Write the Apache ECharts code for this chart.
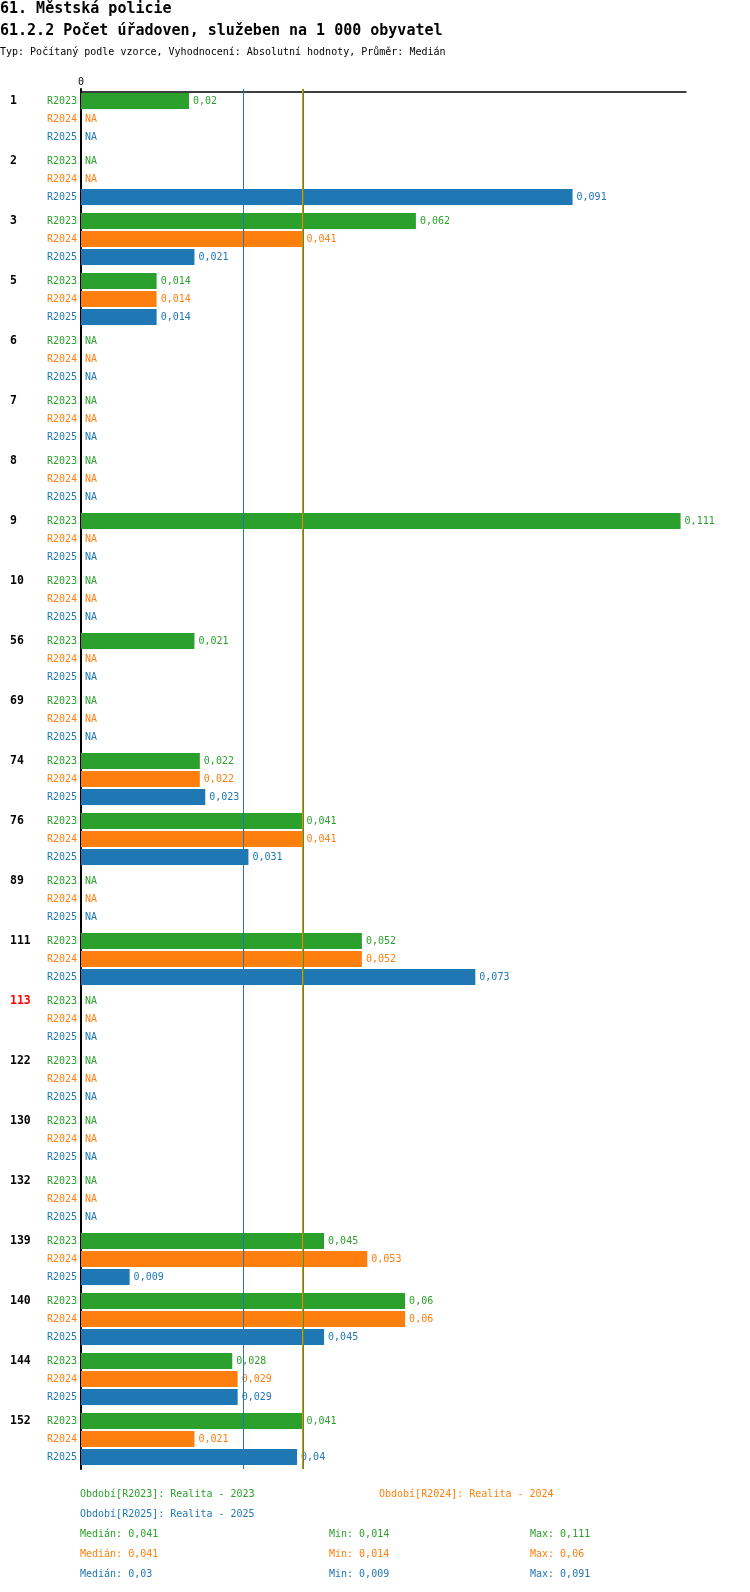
<!DOCTYPE html>
<html>
<head>
<meta charset="utf-8">
<script src="https://cdn.jsdelivr.net/npm/echarts@6/dist/echarts.min.js"></script>
<style>
html, body { margin: 0; padding: 0; background: #fff; }
#chart { width: 750px; height: 1592px; }
</style>
</head>
<body>
<div id="chart"></div>
<script>
// data, null = NA
var categories = ['1', '2', '3', '5', '6', '7', '8', '9', '10', '56', '69', '74', '76', '89', '111', '113', '122', '130', '132', '139', '140', '144', '152']
var periods = ['R2023', 'R2024', 'R2025']
var periodNames = ['Realita - 2023', 'Realita - 2024', 'Realita - 2025']
var r2023 = [0.02, null, 0.062, 0.014, null, null, null, 0.111, null, 0.021, null, 0.022, 0.041, null, 0.052, null, null, null, null, 0.045, 0.06, 0.028, 0.041]
var r2024 = [null, null, 0.041, 0.014, null, null, null, null, null, null, null, 0.022, 0.041, null, 0.052, null, null, null, null, 0.053, 0.06, 0.029, 0.021]
var r2025 = [null, 0.091, 0.021, 0.014, null, null, null, null, null, null, null, 0.023, 0.031, null, 0.073, null, null, null, null, 0.009, 0.045, 0.029, 0.04]
var redCategories = ['113']
var xTicks = [0]

var colors = ['#2ca02c', '#ff7f0e', '#1f77b4']
var mono = '"DejaVu Sans Mono", "Liberation Mono", monospace'
var values = [r2023, r2024, r2025]

function fmt(v) {
    return String(Math.round(v * 1000) / 1000).replace('.', ',')
}
function stats(arr) {
    var s = arr.filter(function (v) { return v != null }).sort(function (a, b) { return a - b })
    var n = s.length
    var med = n % 2 ? s[(n - 1) / 2] : (s[n / 2 - 1] + s[n / 2]) / 2
    return { median: Math.round(med * 1000) / 1000, min: s[0], max: s[n - 1] }
}

var myChart = echarts.init(document.getElementById('chart'))

var series = values.map(function (arr, i) {
    return {
        name: periods[i],
        type: 'bar',
        barWidth: 16,
        barGap: '12.5%',
        itemStyle: { color: colors[i] },
        label: {
            show: true,
            position: 'right',
            distance: 4,
            color: colors[i],
            fontSize: 10,
            fontFamily: mono,
            formatter: function (p) {
                return p.data && p.data.na ? 'NA' : fmt(p.value)
            }
        },
        data: arr.map(function (v) {
            return v == null ? { value: 0, na: true } : v
        })
    }
})

// median lines: green drawn wider underneath so orange sits on its left half
var medianLines = values.map(function (arr, i) {
    return {
        xAxis: stats(arr).median,
        lineStyle: { color: colors[i], width: i === 0 ? 2 : 1, type: 'solid' }
    }
})
series.push({
    name: 'median',
    type: 'line',
    data: [],
    markLine: {
        silent: true,
        symbol: 'none',
        precision: 6,
        label: { show: false },
        data: medianLines
    }
})

var graphic = [
    { type: 'text', x: 0, y: 9, style: { text: '61. Městská policie', font: 'bold 15px ' + mono, fill: '#000', verticalAlign: 'middle' } },
    { type: 'text', x: 0, y: 31, style: { text: '61.2.2 Počet úřadoven, služeben na 1 000 obyvatel', font: 'bold 15px ' + mono, fill: '#000', verticalAlign: 'middle' } },
    { type: 'text', x: 0, y: 52, style: { text: 'Typ: Počítaný podle vzorce, Vyhodnocení: Absolutní hodnoty, Průměr: Medián', font: '10px ' + mono, fill: '#000', verticalAlign: 'middle' } }
]
var legendPos = [[80, 1494], [379, 1494], [80, 1514]]
periods.forEach(function (p, i) {
    graphic.push({ type: 'text', x: legendPos[i][0], y: legendPos[i][1], style: { text: 'Období[' + p + ']: ' + periodNames[i], font: '10px ' + mono, fill: colors[i], verticalAlign: 'middle' } })
    var st = stats(values[i])
    var y = 1534 + i * 20
    graphic.push({ type: 'text', x: 80, y: y, style: { text: 'Medián: ' + fmt(st.median), font: '10px ' + mono, fill: colors[i], verticalAlign: 'middle' } })
    graphic.push({ type: 'text', x: 329, y: y, style: { text: 'Min: ' + fmt(st.min), font: '10px ' + mono, fill: colors[i], verticalAlign: 'middle' } })
    graphic.push({ type: 'text', x: 530, y: y, style: { text: 'Max: ' + fmt(st.max), font: '10px ' + mono, fill: colors[i], verticalAlign: 'middle' } })
})

var periodRich = {}
var rowText = periods.map(function (p, i) {
    periodRich['p' + i] = { color: colors[i], fontSize: 10, fontFamily: mono, lineHeight: 18 }
    return '{p' + i + '|' + p + '}'
}).join('\n')

var option = {
    animation: false,
    grid: { left: 81, right: 64, top: 89, bottom: 123 },
    graphic: graphic,
    xAxis: {
        type: 'value',
        position: 'top',
        offset: -3,
        min: 0,
        max: 0.112,
        interval: 0.112,
        axisLine: { show: true, lineStyle: { color: '#000', width: 1.5 } },
        axisTick: { show: false },
        splitLine: { show: false },
        axisLabel: {
            margin: 5,
            color: '#000',
            fontSize: 10,
            fontFamily: mono,
            formatter: function (v) { return xTicks.indexOf(v) >= 0 ? String(v) : '' }
        }
    },
    yAxis: [
        {
            type: 'category',
            inverse: true,
            data: categories,
            axisLine: { show: true, lineStyle: { color: '#000', width: 2 } },
            axisTick: { show: false },
            axisLabel: {
                interval: 0,
                margin: 4,
                formatter: function () { return rowText },
                rich: periodRich
            }
        },
        {
            type: 'category',
            inverse: true,
            position: 'left',
            data: categories,
            axisLine: { show: false },
            axisTick: { show: false },
            axisLabel: {
                interval: 0,
                margin: 71,
                align: 'left',
                formatter: function (v) {
                    var k = redCategories.indexOf(v) >= 0 ? 'r' : 'n'
                    return '{' + k + '|' + v + '}\n{e| }\n{e| }'
                },
                rich: {
                    n: { color: '#000', fontWeight: 'bold', fontSize: 11.5, fontFamily: mono, lineHeight: 18 },
                    r: { color: '#ff0000', fontWeight: 'bold', fontSize: 11.5, fontFamily: mono, lineHeight: 18 },
                    e: { fontSize: 10, lineHeight: 18 }
                }
            }
        }
    ],
    series: series
}
myChart.setOption(option)
</script>
</body>
</html>
